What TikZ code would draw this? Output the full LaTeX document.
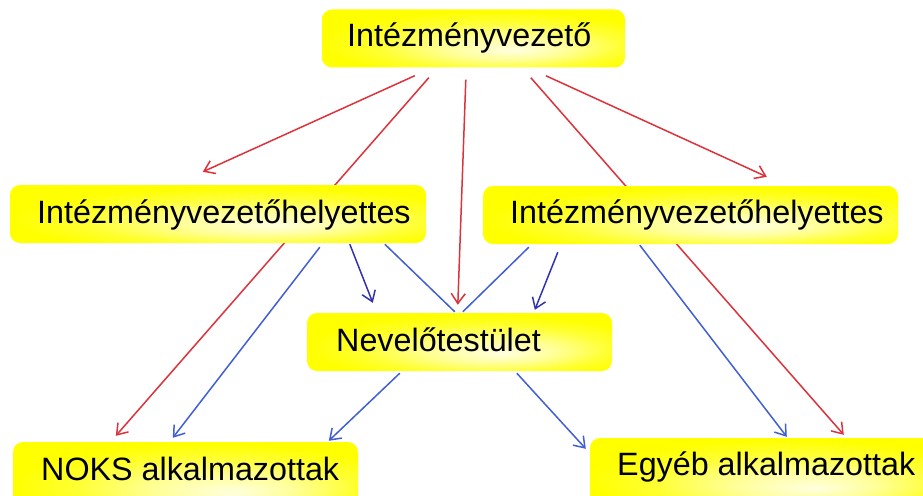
\documentclass[tikz,border=0pt]{standalone}
\usepackage{fontspec}
\setmainfont{Liberation Sans}
\usetikzlibrary{arrows.meta,calc}
\definecolor{ared}{RGB}{220,50,60}
\definecolor{ablue}{RGB}{65,95,210}
\definecolor{adblue}{RGB}{50,50,175}
\pgfdeclareradialshading{glow}{\pgfpoint{7bp}{-10bp}}{color(0bp)=(yellow!12);color(10bp)=(yellow!40);color(20bp)=(yellow!80);color(28bp)=(yellow);color(50bp)=(yellow)}
\pgfdeclarelayer{bg}
\pgfsetlayers{bg,main}
\begin{document}
\begin{tikzpicture}[x=1pt,y=-1pt,
  box/.style={rounded corners=10pt, shading=glow, inner sep=0pt, minimum height=58pt},
  lbl/.style={inner sep=0pt, anchor=base west, font=\fontsize{32.3}{38}\selectfont},
  con/.style={line width=1.5pt},
  arr/.style={-{Straight Barb[length=10pt,width=14pt]}}]
\useasboundingbox (0,0) rectangle (923,495);
\clip (0,0) rectangle (923,495);
% boxes
\node[box, minimum width=303pt] (top) at (473.5,38.5) {};
\node[box, minimum width=416pt] (L) at (218,214) {};
\node[box, minimum width=415pt] (R) at (690.5,215) {};
\node[box, minimum width=305pt] (N) at (459.5,342) {};
\node[box, minimum width=345pt, minimum height=72pt] (K) at (185.5,478) {};
\node[box, minimum width=352pt, minimum height=72pt] (E) at (766,474) {};
% labels
\node[lbl] (topt) at (347,47) {Intézményvezető};
\node[lbl] (Lt) at (37,223) {Intézményvezetőhelyettes};
\node[lbl] (Rt) at (510,223) {Intézményvezetőhelyettes};
\node[lbl] (Nt) at (336,351) {Nevelőtestület};
\node[lbl] (Kt) at (41,480) {NOKS alkalmazottak};
\node[lbl] (Et) at (617,475) {Egyéb alkalmazottak};
% connectors
\begin{pgfonlayer}{bg}
\draw[con,arr,ared] ($(top.south west)+(93,8)$) -- ($(L.north west)+(193,-13)$);
\draw[con,arr,ared] ($(top.south west)+(107,10)$) -- ($(K.north west)+(103,-6)$);
\draw[con,arr,ared] ($(top.south west)+(144,12)$) -- ($(N.north west)+(151,-8)$);
\draw[con,arr,ared] ($(top.south west)+(209,10)$) -- ($(E.north west)+(254,-3)$);
\draw[con,arr,ared] ($(top.south west)+(224,8)$) -- ($(R.north west)+(284,-9)$);
\draw[con,arr,ablue] ($(L.south west)+(310,4)$) -- ($(K.north west)+(160,-4)$);
\draw[con,arr,adblue] ($(L.south west)+(340,1)$) -- ($(N.north west)+(66,-10)$);
\draw[con,ablue] ($(L.south west)+(375,1)$) -- ($(N.north west)+(148,-1)$);
\draw[con,ablue] ($(R.south west)+(46,3)$) -- ($(N.north west)+(156,-1)$);
\draw[con,arr,adblue] ($(R.south west)+(75,8)$) -- ($(N.north west)+(228,-3)$);
\draw[con,arr,ablue] ($(R.south west)+(157,1)$) -- ($(E.north west)+(197,-1)$);
\draw[con,arr,ablue] ($(N.south west)+(93,2)$) -- ($(K.north west)+(316,-1)$);
\draw[con,arr,ablue] ($(N.south west)+(210,2)$) -- ($(E.north west)+(-4,11)$);
\end{pgfonlayer}
\end{tikzpicture}
\end{document}
